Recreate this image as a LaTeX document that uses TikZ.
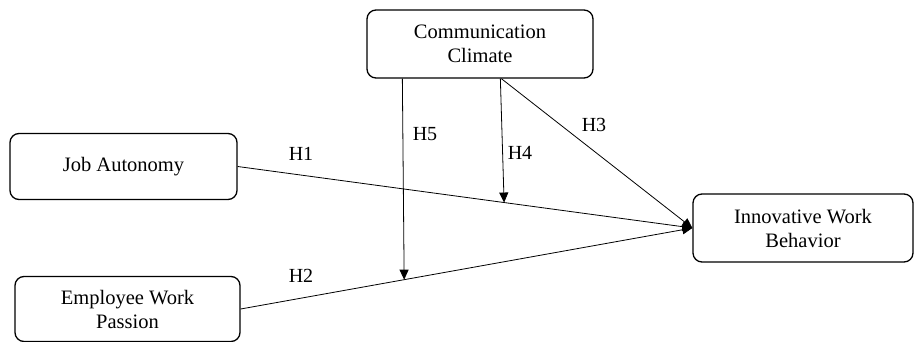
\documentclass[tikz,border=0pt]{standalone}
\usepackage{fontspec}
\setmainfont{Liberation Serif}
\usetikzlibrary{arrows.meta,calc}
\begin{document}
\begin{tikzpicture}[x=1pt,y=-1pt,
  box/.style={draw,line width=1.3pt,rounded corners=9pt,align=center,
    font=\fontsize{20.5}{24}\selectfont,inner sep=0pt},
  conn/.style={line width=0.8pt,-{Triangle[length=10pt,width=9pt]}},
  hlab/.style={font=\fontsize{20}{24}\selectfont,inner sep=0pt}]
\useasboundingbox (0,0) rectangle (915,342);
\node[box,minimum width=226pt,minimum height=68pt] (cc) at (480,44) {Communication\\Climate};
\node[box,minimum width=227pt,minimum height=66pt] (ja) at (123.5,166.5) {Job Autonomy};
\node[box,minimum width=225pt,minimum height=65pt] (ewp) at (127.5,309) {Employee Work\\Passion};
\node[box,minimum width=220pt,minimum height=68pt] (iwb) at (803,228) {Innovative Work\\Behavior};
\coordinate (h3s) at ($(cc.south west)+(135,0)$);
\coordinate (h4s) at ($(cc.south west)+(134,0)$);
\coordinate (h5s) at ($(cc.south west)+(36,0)$);
\coordinate (h4e) at ($(ja.east)!0.586!(iwb.west)$);
\coordinate (h5e) at ($(ewp.east)!0.362!(iwb.west)$);
\draw[conn] (ja.east) -- (iwb.west);
\draw[conn] (ewp.east) -- (iwb.west);
\draw[conn] (h3s) -- (iwb.west);
\draw[conn] (h4s) -- (h4e);
\draw[conn] (h5s) -- (h5e);
\node[hlab] (l1) at (301,154) {H1};
\node[hlab] (l2) at (301,276) {H2};
\node[hlab] (l3) at (594,125) {H3};
\node[hlab] (l4) at (520,153) {H4};
\node[hlab] (l5) at (425,134) {H5};
\end{tikzpicture}
\end{document}
